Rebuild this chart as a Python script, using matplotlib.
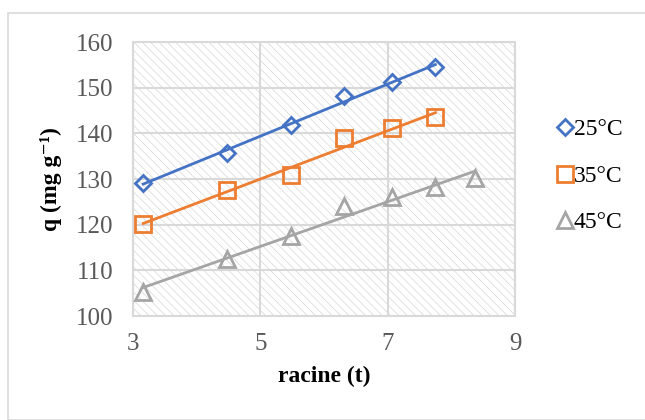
import numpy as np
import matplotlib
matplotlib.use("Agg")
import matplotlib.pyplot as plt
from matplotlib.patches import Rectangle

plt.rcParams['font.family'] = ['Liberation Serif', 'DejaVu Serif']
plt.rcParams['hatch.linewidth'] = 0.5

# racine (t) = sqrt of time
x_25 = [3.16, 4.47, 5.48, 6.32, 7.07, 7.75]
q_25 = [129.1, 135.7, 141.8, 148.2, 151.2, 154.5]
x_35 = [3.16, 4.47, 5.48, 6.32, 7.07, 7.75]
q_35 = [120.1, 127.6, 130.9, 139.0, 141.2, 143.6]
x_45 = [3.16, 4.47, 5.48, 6.32, 7.07, 7.75, 8.37]
q_45 = [105.3, 112.5, 117.5, 124.1, 126.1, 128.2, 130.2]

labels = ["25°C", "35°C", "45°C"]
colors = ["#4472C4", "#ED7D31", "#A5A5A5"]
markers = ["D", "s", "^"]
msizes = [8.5, 11.5, 11.5]

fig = plt.figure(figsize=(6.45, 4.2), dpi=100)
fig.patches.append(Rectangle((8 / 645, 0), 1, 1 - 13 / 420, transform=fig.transFigure,
                             fill=False, edgecolor="#d9d9d9", linewidth=1.2))
ax = fig.add_axes([133 / 645, 1 - 316 / 420, 382 / 645, 274 / 420])

# hatched plot area
ax.add_patch(Rectangle((0, 0), 1, 1, transform=ax.transAxes, facecolor="white",
                       edgecolor="#d6d6d6", hatch="\\\\\\\\", linewidth=0, zorder=0))

handles = []
for xs, qs, lab, c, m, ms in zip([x_25, x_35, x_45], [q_25, q_35, q_45], labels, colors, markers, msizes):
    xs = np.array(xs)
    a, b = np.polyfit(xs, qs, 1)
    xl = np.array([xs[0], xs[-1]])
    ax.plot(xl, a * xl + b, color=c, linewidth=2.0, zorder=3)
    h, = ax.plot(xs, qs, linestyle="none", marker=m, markersize=ms, markerfacecolor="none",
                 markeredgecolor=c, markeredgewidth=2.0, zorder=4, label=lab)
    handles.append(h)

ax.set_xlim(3, 9)
ax.set_ylim(100, 160)
ax.set_xticks([3, 5, 7, 9])
ax.set_yticks(range(100, 161, 10))
ax.grid(True, color="#d9d9d9", linewidth=1.5, zorder=1)
ax.set_axisbelow(True)
for s in ax.spines.values():
    s.set_color("#d9d9d9")
    s.set_linewidth(1.5)
ax.tick_params(length=0, labelsize=18, labelcolor="#595959")
ax.tick_params(axis="x", pad=12)
ax.tick_params(axis="y", pad=14)

ax.set_xlabel("racine (t)", fontsize=17, fontweight="bold", labelpad=8)
ax.set_ylabel("q (mg g\u207b\u00b9)", fontsize=17, fontweight="bold", labelpad=10)

fig.legend(handles=handles, labels=labels, loc="center left", bbox_to_anchor=(548 / 645, 1 - 176 / 420),
           frameon=False, fontsize=17, handlelength=0.6, handletextpad=0.1, labelspacing=1.05,
           borderaxespad=0)

fig.savefig("out.png", dpi=100)
